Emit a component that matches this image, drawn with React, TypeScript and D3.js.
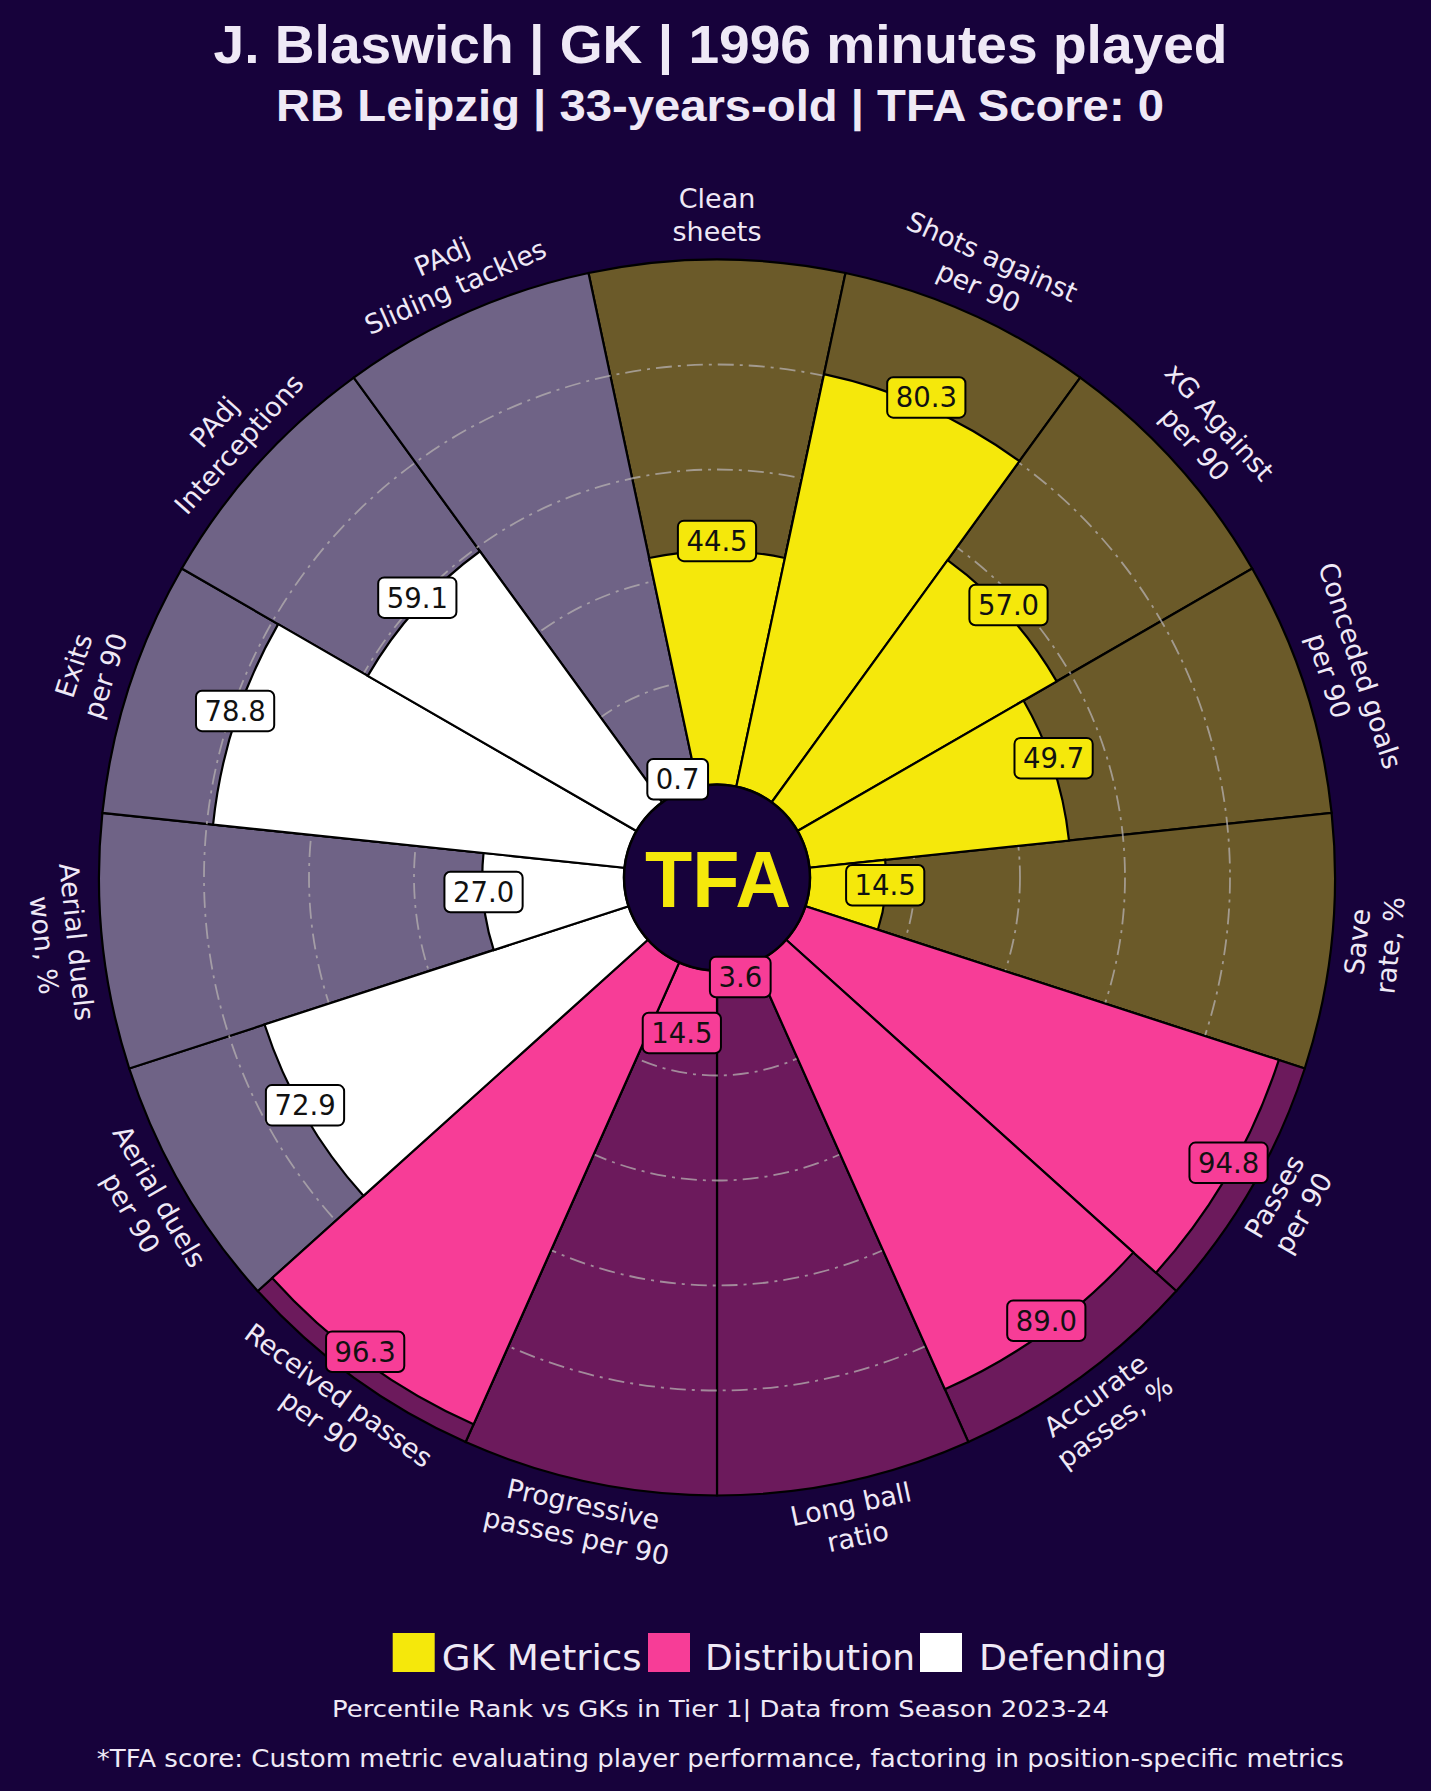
import React from "react";
import * as d3 from "d3";

// ---------- data ----------
const categories: string[] = [
  "Clean\nsheets",
  "Shots against\nper 90",
  "xG Against\nper 90",
  "Conceded goals\nper 90",
  "Save\nrate, %",
  "Passes\nper 90",
  "Accurate\npasses, %",
  "Long ball\nratio",
  "Progressive\npasses per 90",
  "Received passes\nper 90",
  "Aerial duels\nper 90",
  "Aerial duels\nwon, %",
  "Exits\nper 90",
  "PAdj\nInterceptions",
  "PAdj\nSliding tackles",
];
const values: number[] = [44.5, 80.3, 57.0, 49.7, 14.5, 94.8, 89.0, 3.6, 14.5, 96.3, 72.9, 27.0, 78.8, 59.1, 0.7];
const groups: string[] = [
  "GK Metrics", "GK Metrics", "GK Metrics", "GK Metrics", "GK Metrics",
  "Distribution", "Distribution", "Distribution", "Distribution", "Distribution",
  "Defending", "Defending", "Defending", "Defending", "Defending",
];
const legendItems: string[] = ["GK Metrics", "Distribution", "Defending"];
const gridTicks: number[] = [20, 40, 60, 80];
const titleLine1 = "J. Blaswich | GK | 1996 minutes played";
const titleLine2 = "RB Leipzig | 33-years-old | TFA Score: 0";
const footer1 = "Percentile Rank vs GKs in Tier 1| Data from Season 2023-24";
const footer2 = "*TFA score: Custom metric evaluating player performance, factoring in position-specific metrics";

// ---------- styles ----------
const W = 1431;
const H = 1791;
const BG = "#17023b";
const TEXT = "#efe9f6";
const sliceColor: Record<string, string> = {
  "GK Metrics": "#f5e80b",
  Distribution: "#f73d97",
  Defending: "#ffffff",
};
const bgColor: Record<string, string> = {
  "GK Metrics": "#6b5a29",
  Distribution: "#6c1a5c",
  Defending: "#6f6386",
};
const CX = 717;
const CY = 877.5;
const R_IN = 93;
const R_OUT = 618;
const LABEL_R = 660;
const SANS = "'DejaVu Sans', sans-serif";
const BOLD = "'Liberation Sans', Arial, sans-serif";

export default function App() {
  const n = categories.length;
  const step = (2 * Math.PI) / n;
  const r = d3.scaleLinear().domain([0, 100]).range([R_IN, R_OUT]);
  const arc = d3.arc<any>();

  const wedge = (i: number, outer: number) =>
    arc({
      innerRadius: R_IN,
      outerRadius: outer,
      startAngle: i * step - step / 2,
      endAngle: i * step + step / 2,
    }) as string;

  const valFs = 27.5;
  const textW = (s: string) =>
    s.split("").reduce((acc, c) => acc + (c === "." ? 0.318 : 0.636), 0) * valFs;

  const labelFs = 27;
  const lineH = 33;

  return (
    <svg
      width={W}
      height={H}
      style={{ position: "absolute", left: 0, top: 0, display: "block" }}
      xmlns="http://www.w3.org/2000/svg"
    >
      <rect x={0} y={0} width={W} height={H} fill={BG} />

      {/* titles */}
      <text x={720.5} y={63} textAnchor="middle" fontFamily={BOLD} fontWeight={700} fontSize={54}
        fill={TEXT} textLength={1014} lengthAdjust="spacingAndGlyphs">{titleLine1}</text>
      <text x={720} y={121} textAnchor="middle" fontFamily={BOLD} fontWeight={700} fontSize={45}
        fill={TEXT} textLength={888} lengthAdjust="spacingAndGlyphs">{titleLine2}</text>

      <g transform={`translate(${CX},${CY})`}>
        {/* background wedges */}
        {categories.map((c, i) => (
          <path key={"bg" + i} d={wedge(i, r(100))} fill={bgColor[groups[i]]} stroke="#000" strokeWidth={2.2} />
        ))}
        {/* grid circles */}
        {gridTicks.map((t) => (
          <circle key={"g" + t} r={r(t)} fill="none" stroke="#b5b0b0" strokeOpacity={0.75}
            strokeWidth={1.8} strokeDasharray="16 6 3 6" />
        ))}
        {/* value wedges */}
        {values.map((v, i) => (
          <path key={"v" + i} d={wedge(i, r(v))} fill={sliceColor[groups[i]]} stroke="#000" strokeWidth={2.2} />
        ))}
        {/* center circle */}
        <circle r={R_IN} fill={BG} stroke="#000" strokeWidth={2.5} />
        <text x={1} y={29} textAnchor="middle" fontFamily={BOLD} fontWeight={900} fontSize={80}
          fill="#f5e80b" textLength={146} lengthAdjust="spacingAndGlyphs">TFA</text>

        {/* value boxes */}
        {values.map((v, i) => {
          const a = i * step;
          const rr = r(v);
          const x = rr * Math.sin(a);
          const y = -rr * Math.cos(a) - 10;
          const s = v.toFixed(1);
          const bw = textW(s) + 17;
          const bh = 40.5;
          return (
            <g key={"vl" + i} transform={`translate(${x},${y})`}>
              <rect x={-bw / 2} y={-bh / 2} width={bw} height={bh} rx={6} ry={6}
                fill={sliceColor[groups[i]]} stroke="#000" strokeWidth={2} />
              <text x={0} y={valFs * 0.365} textAnchor="middle" fontFamily={SANS} fontSize={valFs} fill="#111">
                {s}
              </text>
            </g>
          );
        })}

        {/* category labels */}
        {categories.map((c, i) => {
          const deg = (i * 360) / n;
          const a = (deg * Math.PI) / 180;
          const x = LABEL_R * Math.sin(a);
          const y = -LABEL_R * Math.cos(a) - 3;
          let rot = deg;
          if (deg > 90 && deg < 270) rot = deg - 180;
          else if (deg >= 270) rot = deg - 360;
          const lines = c.split("\n");
          return (
            <g key={"cl" + i} transform={`translate(${x},${y}) rotate(${rot})`}>
              {lines.map((ln, k) => (
                <text key={k} x={0} y={(k - (lines.length - 1) / 2) * lineH + labelFs * 0.36}
                  textAnchor="middle" fontFamily={SANS} fontSize={labelFs} fill={TEXT}>
                  {ln}
                </text>
              ))}
            </g>
          );
        })}
      </g>

      {/* legend */}
      {legendItems.map((g, i) => {
        const sq = [392.7, 648, 920][i];
        const tx = [441.7, 705, 979][i];
        const tw = [200, 210, 188][i];
        return (
          <g key={"lg" + i}>
            <rect x={sq} y={1633} width={42} height={39} fill={sliceColor[g]} />
            <text x={tx} y={1670} fontFamily={SANS} fontSize={35} fill={TEXT}
              textLength={tw} lengthAdjust="spacingAndGlyphs">{g}</text>
          </g>
        );
      })}

      {/* footers */}
      <text x={720.5} y={1716.5} textAnchor="middle" fontFamily={SANS} fontSize={23} fill={TEXT}
        textLength={777} lengthAdjust="spacingAndGlyphs">{footer1}</text>
      <text x={720.3} y={1766.5} textAnchor="middle" fontFamily={SANS} fontSize={24} fill={TEXT}
        textLength={1247} lengthAdjust="spacingAndGlyphs">{footer2}</text>
    </svg>
  );
}
